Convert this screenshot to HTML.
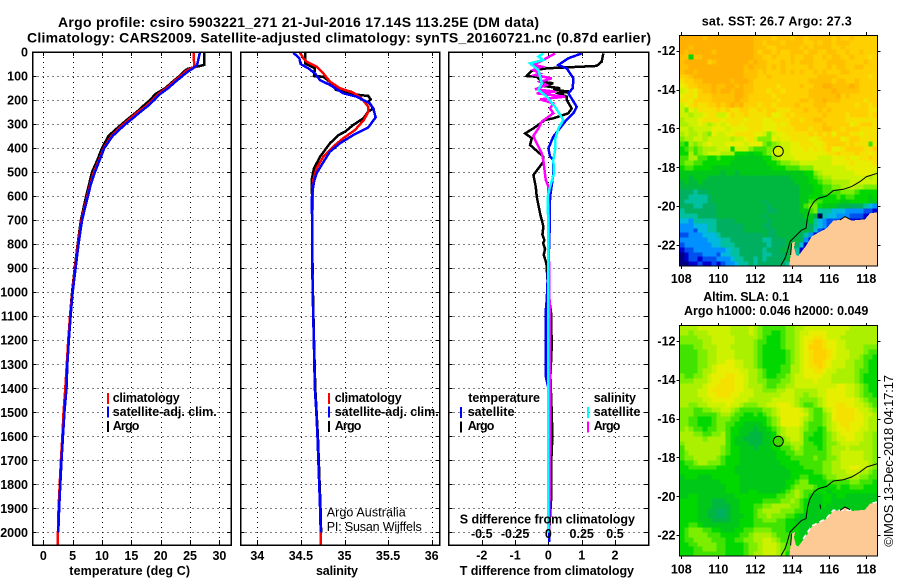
<!DOCTYPE html>
<html>
<head>
<meta charset="utf-8">
<title>Argo profile</title>
<style>
html,body{margin:0;padding:0;background:#fff;width:900px;height:580px;overflow:hidden}
svg{display:block}
text{font-family:"Liberation Sans",sans-serif;fill:#000}
.b{font-weight:bold;font-size:12.5px}
.t{font-weight:bold;font-size:14px}
.r{font-weight:normal;font-size:12.5px}
</style>
</head>
<body>
<svg id="fig" xmlns="http://www.w3.org/2000/svg" width="900" height="580" viewBox="0 0 900 580">
  <rect x="0" y="0" width="900" height="580" fill="#fff"/>
  <text class="t" x="58" y="27" textLength="481" lengthAdjust="spacing">Argo profile: csiro 5903221_271 21-Jul-2016 17.14S 113.25E (DM data)</text>
  <text class="t" x="27" y="42.5" textLength="624" lengthAdjust="spacing">Climatology: CARS2009. Satellite-adjusted climatology: synTS_20160721.nc (0.87d earlier)</text>

  <g id="panel-temp"></g>
  <g id="panel-sal"></g>
  <g id="panel-diff"></g>

  <text class="b" x="69.3" y="575" textLength="120.7" lengthAdjust="spacing">temperature (deg C)</text>
  <text class="b" x="316" y="575" textLength="42" lengthAdjust="spacing">salinity</text>
  <text class="b" x="459.7" y="575" textLength="174.3" lengthAdjust="spacing">T difference from climatology</text>
  <text class="b" x="459.7" y="523.5" textLength="175.3" lengthAdjust="spacing">S difference from climatology</text>

  <g>
    <rect x="107" y="393" width="2" height="11" fill="#f00"/>
    <rect x="107" y="406.5" width="2" height="11" fill="#00f"/>
    <rect x="107" y="421" width="2" height="11" fill="#000"/>
    <text class="b" x="112.7" y="402" textLength="67" lengthAdjust="spacing">climatology</text>
    <text class="b" x="112.7" y="416" textLength="104" lengthAdjust="spacing">satellite-adj. clim.</text>
    <text class="b" x="112.7" y="430" textLength="26.7" lengthAdjust="spacing">Argo</text>
  </g>
  <g>
    <rect x="328" y="393" width="2" height="11" fill="#f00"/>
    <rect x="328" y="406.5" width="2" height="11" fill="#00f"/>
    <rect x="328" y="421" width="2" height="11" fill="#000"/>
    <text class="b" x="334.7" y="402" textLength="67" lengthAdjust="spacing">climatology</text>
    <text class="b" x="334.7" y="416" textLength="104" lengthAdjust="spacing">satellite-adj. clim.</text>
    <text class="b" x="334.7" y="430" textLength="26.7" lengthAdjust="spacing">Argo</text>
    <text class="r" x="326.7" y="516.7" textLength="79" lengthAdjust="spacing">Argo Australia</text>
    <text class="r" x="326.7" y="531" textLength="95" lengthAdjust="spacing">PI: Susan Wijffels</text>
  </g>
  <g>
    <text class="b" x="468.3" y="402" textLength="71.7" lengthAdjust="spacing">temperature</text>
    <text class="b" x="593.7" y="402" textLength="42.3" lengthAdjust="spacing">salinity</text>
    <rect x="460" y="407" width="2" height="11" fill="#00f"/>
    <rect x="460" y="421.5" width="2" height="11" fill="#000"/>
    <rect x="587" y="407" width="2" height="11" fill="#0ff"/>
    <rect x="587" y="421.5" width="2" height="11" fill="#f0f"/>
    <text class="b" x="467.7" y="416" textLength="46.7" lengthAdjust="spacing">satellite</text>
    <text class="b" x="467.7" y="430" textLength="26.7" lengthAdjust="spacing">Argo</text>
    <text class="b" x="593.7" y="416" textLength="46.7" lengthAdjust="spacing">satellite</text>
    <text class="b" x="593.7" y="430" textLength="26.7" lengthAdjust="spacing">Argo</text>
  </g>

  <text class="b" x="701.7" y="25.7" textLength="150" lengthAdjust="spacing">sat. SST: 26.7 Argo: 27.3</text>
  <text class="b" x="703.3" y="301" textLength="85.7" lengthAdjust="spacing">Altim. SLA: 0.1</text>
  <text class="b" x="684" y="315" textLength="184.3" lengthAdjust="spacing">Argo h1000: 0.046 h2000: 0.049</text>

  <g id="map-sst" transform="translate(679.3,35.3)">
    <g id="sst-cells"></g>
    <path fill="#fdca96" shape-rendering="crispEdges" d="M198,177 L190.7,178 185.7,184 172.3,185.3 165.7,181.3 160.7,184.7 154,185.3 147.3,193 139,197.3 132.3,201.3 127.3,209.7 122.3,216.3 119,220.7 116.7,219.7 114.7,212 115.7,206.3 112.3,208 111.3,219.7 110,230.7 198,230.7 Z"/>
    <path fill="none" stroke="#000" stroke-width="1" d="M198,138 L187.3,141.3 180.7,146.3 172.3,151.3 164,154 154,155.3 147.3,160.7 139,163 134.7,166.3 130.7,173 128.3,181.3 126.7,193 122.3,194.7 115.7,201.3 110.7,206.3 108,216.3 105.7,223 101.3,230.7"/>
    <path fill="none" stroke="#000" stroke-width="1" d="M160.7,184.7 L165.7,181.3 170.7,184 M140.7,178.7 L141.3,183 M112.3,208 L111.3,219.7"/>
    <circle cx="99" cy="116" r="5" fill="#d8f000" stroke="#000" stroke-width="1"/>
    <rect x="0" y="0" width="198" height="230.7" fill="none" stroke="#000" stroke-width="1" shape-rendering="crispEdges"/>
  </g>

  <g id="map-sla" transform="translate(679.3,325.7)">
    <g id="sla-cells"></g>
    <path fill="#fdca96" shape-rendering="crispEdges" d="M198,177 L190.7,178 185.7,184 172.3,185.3 165.7,181.3 160.7,184.7 154,185.3 147.3,193 139,197.3 132.3,201.3 127.3,209.7 122.3,216.3 119,220.7 116.7,219.7 114.7,212 115.7,206.3 112.3,208 111.3,219.7 110,230.7 198,230.7 Z"/>
    <path fill="none" stroke="#fff" stroke-width="1.5" stroke-dasharray="5 3" shape-rendering="crispEdges" d="M198,176.5 L190.7,177.5 M172.3,184.5 L154,184.5 147.3,192.5 132.3,200.5 122.3,215.5"/>
    <path fill="none" stroke="#000" stroke-width="1" d="M198,138 L187.3,141.3 180.7,146.3 172.3,151.3 164,154 154,155.3 147.3,160.7 139,163 134.7,166.3 130.7,173 128.3,181.3 126.7,193 122.3,194.7 115.7,201.3 110.7,206.3 108,216.3 105.7,223 101.3,230.7"/>
    <path fill="none" stroke="#000" stroke-width="1" d="M160.7,184.7 L165.7,181.3 170.7,184 M140.7,178.7 L141.3,183 M112.3,208 L111.3,219.7"/>
    <circle cx="99" cy="115.6" r="5" fill="#40d800" stroke="#000" stroke-width="1"/>
    <rect x="0" y="0" width="198" height="230.3" fill="none" stroke="#000" stroke-width="1" shape-rendering="crispEdges"/>
  </g>
  <g id="map-axes"></g>

  <text x="893" y="546.7" transform="rotate(-90 893 546.7)" font-size="13" textLength="171.7" lengthAdjust="spacing">©IMOS 13-Dec-2018 04:17:17</text>
</svg>
<script>
// ---------- axis tick data ----------
const depthTicks = [0,100,200,300,400,500,600,700,800,900,1000,1100,1200,1300,1400,1500,1600,1700,1800,1900,2000];
const tempTicks = [0,5,10,15,20,25,30];
const salTicks = [34,34.5,35,35.5,36];
const tDiffTicks = [-2,-1,0,1,2];
const sDiffLabels = ["-0.5","-0.25","0","0.25","0.5"];
const lonTicks = [108,110,112,114,116,118];
const latTicks = [-12,-14,-16,-18,-20,-22];

// ---------- temperature profile data ----------
const tempDepths = [0,54,62,70,80,100,120,150,175,200,225,250,275,300,325,350,400,450,500,550,600,700,800,900,1000,1100,1200,1300,1400,1500,1600,1700,1800,1900,2000,2050];
const tempClim = [25.6,25.7,25.9,25,24.3,23.4,22.4,21,19.6,18.6,17.5,16.1,14.9,13.7,12.6,11.6,10.3,9.5,8.6,8,7.5,6.5,5.9,5.4,4.95,4.55,4.25,4,3.75,3.45,3.25,3,2.8,2.6,2.5,2.45];
const tempSat = [26.7,26.2,25.8,25.4,24.7,23.7,22.7,21.3,19.9,18.9,17.8,16.5,15.3,14,12.9,11.8,10.4,9.6,8.8,8.1,7.6,6.6,6,5.5,5,4.65,4.35,4.1,3.95,3.6,3.35,3.1,2.9,2.7,2.55];
const tempArgo = [27.4,27.4,26,24.6,24,23.2,22.2,20.8,19.1,18.2,17,15.9,14.6,13.4,12.2,11.1,10,9.2,8.3,7.8,7.3,6.4,5.85,5.35,4.9,4.55,4.25,4,3.85,3.6,3.35,3.1,2.9,2.7,2.55];

// ---------- salinity profile data ----------
const salArgoDepth = [3,47,68,100,103,130,158,165,172,183,197,207,235,248,276,304,332,346,380,436,484,533,561,800,1000,1200,1400,1500,1600,1700,1800,1900,2000];
const salArgo = [34.547,34.547,34.661,34.65,34.757,34.852,34.902,35.082,34.986,35.273,35.3,35.273,35.33,35.273,35.216,35.1,35.005,34.93,34.833,34.72,34.65,34.623,34.627,34.63,34.638,34.65,34.665,34.68,34.695,34.705,34.715,34.725,34.732];
const salClimDepth = [3,26,40,61,89,123,151,169,193,228,248,283,325,359,394,436,484,533,575,800,1000,1200,1400,1500,1600,1700,1800,1900,2000,2050];
const salClim = [34.489,34.528,34.566,34.68,34.757,34.833,34.948,35.1,35.196,35.273,35.273,35.223,35.12,34.986,34.87,34.757,34.68,34.642,34.635,34.63,34.635,34.648,34.66,34.677,34.69,34.7,34.71,34.72,34.727,34.727];
const salSatDepth = [3,26,50,68,89,117,137,172,186,214,235,272,314,346,380,415,470,505,540,575,602,800,1000,1200,1400,1500,1600,1700,1800,1900,2000];
const salSat = [34.413,34.482,34.497,34.585,34.661,34.719,34.833,34.986,35.139,35.292,35.33,35.357,35.273,35.1,34.948,34.833,34.738,34.68,34.65,34.635,34.627,34.628,34.635,34.648,34.66,34.677,34.69,34.7,34.71,34.72,34.727];

// ---------- difference from climatology data ----------
const dTArgoDepth = [6,40,58,68,78,100,103,124,130,141,151,158,165,172,186,200,235,255,276,283,318,339,359,387,436,457,512,561,602,672,727,760,783,796,820,845,880,921,1000,1087,1224,1350,1503,1599,1724,1865,2000];
const dTArgo = [1.65,1.6,1.45,-0.05,-0.5,-0.65,-0.35,-0.2,0.15,-0.15,0.35,0.15,0.65,0.3,0.55,0.55,0.7,0.6,0.15,-0.1,-0.45,-0.7,-0.5,-0.55,-0.15,-0.15,-0.45,-0.38,-0.35,-0.25,-0.15,-0.18,-0.12,-0.16,-0.1,-0.14,-0.06,-0.04,0,0.08,0.1,0.06,0.1,0.12,0.08,0.08,0.02];
const dTSatDepth = [6,26,54,68,110,151,172,228,255,290,352,401,436,450,505,575,602,783,1032,1080,1350,1400,1800,2040];
const dTSat = [1,0.6,0.3,0.55,0.75,0.73,0.6,0.85,0.75,0.5,0.15,0,0.05,0.15,0.15,0.08,0.05,0.03,-0.05,-0.08,-0.08,0,0.05,0.02];
const dSArgoDepth = [6,33,54,61,75,89,96,110,124,137,155,165,172,186,197,214,235,255,290,318,350,380,422,450,477,533,561,783,1100,1200,1500,1800,2000];
const dSArgo = [0.05,-0.038,-0.113,-0.05,-0.113,-0.063,-0.1,0.025,-0.063,-0.013,-0.1,0.05,-0.088,0.125,-0.063,0.037,0.012,0.037,-0.05,-0.075,-0.113,-0.088,-0.05,-0.038,-0.0325,-0.02,0,0.0025,0.01,0.01,0.015,0.01,0.005];
const dSSatDepth = [6,19,33,47,75,130,158,186,228,283,318,366,408,450,505,561,602,783,2000];
const dSSat = [-0.038,-0.075,-0.038,-0.138,-0.075,-0.05,-0.075,-0.013,0.05,0.112,0.075,0.05,0.05,0.037,0.0425,0.0125,-0.005,0,-0.002];

// ---------- map colour scale and gridded values ----------
const mapPalette = {a:"#000080",b:"#0000d0",c:"#0050f0",d:"#0090ff",e:"#00b8e0",f:"#00c0a0",g:"#00b060",h:"#00b840",i:"#00c818",j:"#00d800",k:"#40e400",l:"#7cee00",m:"#aaf000",n:"#ccf200",o:"#e8ee00",p:"#f5e100",q:"#ffd000",r:"#ffc000",s:"#ffb000"};
const sstGrid = [
"sssssrssss ssssssrrrr qrrrqrrqrr rrrqrqqrqq qqq",
"ssssssssss ssssssrrqr rrqrrrrqqr qrrqrrrqqq qqq",
"ssrsssssss ssssssrrrq qrrrrrqrqr rrrqqrqqqq qqq",
"srsssssrss ssssssrqrr qrqqrrrqrr qqrrqqrqqr qqq",
"rrjrrsssss ssssssrrqq rqqqrqqrrq qrqrrqqrqq qpq",
"rsssssqrss sssssrsrrq qqrqrqrrrq qqrrrrqqqq rqq",
"rrssssssss ssssrsrrrq rqrqqqqqrq qqrqrrqqrr qqq",
"rssrssssss ssssrrrqrq qqrqrqrqqr qrqqqrrqqq qqq",
"qqrsssssss ssssrrrqqr qqqqqqqqqq rrrrqqqqqq qpq",
"pqqrrsssss srsssrqqqq qqqqqqqqrr rrrqrrqqrq qqq",
"opqqrrrsrr ssrsrrqqqq qpqqqqrqqr rssrrrrsrq qqq",
"nopoqrrsrs srssrrqqqp qqpqqqqqrr rrrsrrrrrq qqq",
"oppoqqqrrr rrssrqqqqq pqqqqqqqrr rrrrsqrqqq qqq",
"ppoqqqqrrr rrsrrqqqqq qpqqqqrrqr rsrrrqqqqq pqq",
"nopqppqqrq rsrsqqqpqq pqqqqrqqqr rrqqqqqqpq qpq",
"nlonppppqp qppqqppqpq qpppqqqrqq rqrqqqqqqq qpp",
"nnmnnoppnn oqppqppppq oopqpqqqqq qrqqqqpqqq qpq",
"mnnnoppppo ppppopppoo ppppqqpqqr rqqqqqpppp ppp",
"mmnnonmnon oppoppppoo opopqqqqqq qrqqqqqopq qqp",
"nnmnnnnooo noooopppoo oppppqqqpq qrrqqpqqqp ppp",
"mnmmnmlonn ooppppoonl noopppppqp qpqoqqqppo ppp",
"lmmnnmnnnn nmnnopnlll onooppppoo pqqqqopqqp ppp",
"kjmlmnonnn oooonooolk lmnnoopppo opqqqqpqpp pkp",
"jklklmmmnn njnnnlkkkl lnnnooopop opqoopqqqq ppq",
"jjmklmnnnm mmjjjijjkl nnnnoooooo ooppqpppqp pop",
"kkmmkkjjkj jjiiiiiijj lmnnnooooo nnnooopoop pqp",
"kllkkjjjjj jiiiiiiiij jkllmmnnnn nnnoooopoo oop",
"jkkjjjjiii iiiiiiiiii jjjkkkllln nnnnnnoooo ooo",
"iiiiiiiiih iihiiiiiii iiiiiiijjl mnnnnnnnoo oon",
"iihiiihhhh hhhhhhhhhh hhhhiiiijk lmmnnnnnnn nmn",
"hihhihhhhh hhhhhhhhhh hhhhhiiijj kllmmmmnnn nnn",
"hhhhhhhhhh hhhhhhhhhh hhhhhhiiij jkkllmmnmm lll",
"gggfgghhhh hhhhhhhhhh hhhhhhiiij jkkkklllkj jjj",
"ggffffghhh hhhhhhhhhh hhhhhhiijj ijjjkjkkjj jij",
"gfffffghhh hhhhhhhhgh hhhhhhiikk kjjjjiijjj jii",
"gggffggghh hhhhhhhhhg hhhhhhikll jiiihhhggg fed",
"fggggggghh hhhhhhhhhg ghhhhhiikl fffeeedddd ccb",
"ffffgggghh hhhhhhhhgh hhhhhhhiih afeedddccc bbb",
"eedfffffgg gghhhhhhhg hhhhhhhhif edcccbbbba aaa",
"dddeeeffgg gggghhhhgg hhhhhhhhgf edcbbaaaaa aaa",
"dddceeffgg gggghhhhhg ghhhhhhhge cbaaaaaaaa aaa",
"ccdddeeefg gggggggghg ghhhhhgfdb baaaaaaaaa aaa",
"ddddddeeef fgggggggff ggghhhgdba aaaaaaaaaa aaa",
"cddddddeef ffgggggggf ggghhgebaa aaaaaaaaaa aaa",
"bccddddddd effgggggfg gghhgfbaaa aaaaaaaaaa aaa",
"abcccdddce effgggggff ggghhfaaaa aaaaaaaaaa aaa",
"abccbcccdd deffggfgfg ggghhggaaa aaaaaaaaaa aaa",
"aabbcbbcbc ddeffgfggg gggffffffa aaaaaaaaaa aaa"
];
const slaGrid = [
"mmmmnnnnnn nmmmmnmlkk kkkllmmnnn nnnnnnnmmm mmm",
"mmlmmmnnnn nmmmmnmlkk jjkllmnnoo oonnnnmmmm mmm",
"llllmmmnnn nnmmmmmlkj jjkllmnoop ponnnmmmmm mmm",
"lllllmmnnn nnmmmmlkkj jjkllmnopq qpoonnmmmm mmm",
"kkkllmmmnn nmmmmmlkjj jjkllmnoqq qpoonnmmmm lll",
"kkkkllmmnn nnmmmmlkjj jjjklmnopq qqponnnmmm lkk",
"kkkkllmmnn nnmmmmlkjj jjjklmnopq qqponnnmml kkj",
"kkkkllmmnn oonnmmlkjj jjjklmnopq qponnnmmll kjj",
"kkkkllmnoo oonnmmlkjj jjkkmmnopp qponnnmmll kjj",
"kkkklmmnoo ooonnmmlkj jjkkmmnoop ponnmmmmlk kjj",
"lkkllmnooo ppoonmmlkj jkklmnnooo onnmmmmmlk jjj",
"lllmmmnoop ppoonmmllk kkllmnnnno nnnmmmmmlk jjj",
"mmmmmnoopp ppoonmmmlk kllmmnnnnn nnnnoonnml kjj",
"mmmmnnoppp ppoonnmmll lmmnnmmmmm nnoooonnml kjj",
"mmmmnnoopp poonnnmmmm mmnnnmmlmm nnoooonnml kkj",
"mmmmmnnooo oonnnmmmmm nnnnnmllll mnoooooonm lkk",
"mmllmmnnnn onnmlllmmn nooonmlkkl mnooppoonn mlk",
"lllkkllmmn nmlkkkkkll mnoooonmlk kmnoppppon nml",
"lllkkkkklm mlkkjjkjkl mnooooonlk klmoppppoo nnm",
"llkkjjjkll lkkjjjjjjk lmoooonmlk klmoppppoo nmm",
"llkkjjjkll kkjjiiiijk lmoooonlkk klmnoppooo nmm",
"lmlkkjkkll kjjiiihiij klmnnnmlkk jkmnoopoon nmm",
"mmmllkkllm kjjiihhhii jlmnnnmkkj jklmnooonn mml",
"mmmmmlmmmm kjiihhhhii jklmnnmkjj jklmnnoonn mml",
"lmmmmmmmmm kjiiihhhii jkllmmmkkj jkllmnnnnm mml",
"kmmmmmmmml kjjiiihiii jjkklmlkkk jklmmmnmmm mml",
"klmmmmmmml kjjiiiiiii ijjkkllkkk kklmmnnnnn mml",
"kllmmmmmlk jjjiiiiiii ijjjkkkkkl kkllmnnnnn mml",
"jkklmmlllk jjjiiiiiii iijjjjkkkk kllmmnnnnn nml",
"jjkkkkkkjj jjiiiiiiii iiijjjjkkk kllmmnnoon nml",
"jjjjjjjjjj jjiiiiiiii iiiijjjjjk kllmmmnnnm mlk",
"ijjjiiijjj jjjiiiiiii iiiijjkkjj jkllmmmmml lkk",
"iiiiiiiiij jjjiiiiiii iiijjklljj jjkkkkkllk kkj",
"iiiiiiiiii jjjiiiiiii iiijkllllk jjjjkjjkkk jjj",
"iiiiiiiiii jjjiijjiii iijklmlkkj jjijjjjjjj jjj",
"iijjiiiiii iijjjjjjjj jkkllmlkji ijjijjiiii iii",
"jjjjiiihhh iiijjjjjkk kkllmlkjii ijjiiiiiii iii",
"jjjjiiihhh hiijjjkkll mmmmllkjii ijiiiiiiii iii",
"jjjjiihhgg hiijjjklmm mmlllkkjii iiiiiiiiii iii",
"jjjjiihhgg hiiijjkllm lllkkjiiii iiiiiiiiii iii",
"jjjjiiihhh hiijjjkkll lkkjjiiiii iiiiiiiiii iii",
"jjkkjiiiii iiijjjkkkk kkkjjjiiii iiiiiiiiii iii",
"jklllkkjji iijjkkllll kkkjjjiiii iiiiiiiiii iii",
"jkllllkkkj jjjkklmmmm lkkkjjiiii iiiiiiiiii iii",
"jkkllllkkk jjkkllmmnn mlkkjjiiii iiiiiiiiii iii",
"jjkkllllkk jjjjkllmnn nmlkjjjiii iiiiiiiiii iii",
"jjjkklllkk jjjjkllmnn nmlkjjjiii iiiiiiiiii iii",
"jjjkkkkkkk jjjjklmmnn nmljjjjiii iiiiiiiiii iii"
];

// ---------- axis functions ----------
const NS = "http://www.w3.org/2000/svg";
const plotTop = 52, plotBottom = 545;
function yDepth(d){ return 52 + d * 0.2402; }
function xTemp(t){ return 43.3 + t * 5.87; }
function xSal(s){ return 257.3 + (s - 34) * 87.2; }
function xDiffT(v){ return 548.4 + v * 33.3; }
function xDiffS(v){ return xDiffT(v * 4); }
function xLon(lon){ return 681.3 + (lon - 108) * 18.5; }
function ySstLat(lat){ return 50.7 + (-12 - lat) * 19.44; }
function ySlaLat(lat){ return 340.9 + (-12 - lat) * 19.42; }

function el(tag, parent, attrs){
  const e = document.createElementNS(NS, tag);
  for (const k in attrs) e.setAttribute(k, attrs[k]);
  parent.appendChild(e);
  return e;
}

function drawFrame(parent, x0, x1, xTicks, xFn){
  depthTicks.forEach(function(d){
    const y = Math.round(yDepth(d));
    const grid = el("line", parent, {x1:x0, y1:y+0.5, x2:x1, y2:y+0.5, stroke:"#000", "stroke-width":1, "stroke-dasharray":"1 4", "shape-rendering":"crispEdges"});
    
    
    const tl = el("line", parent, {x1:x0, y1:y+0.5, x2:x0+4, y2:y+0.5, stroke:"#000", "stroke-width":1, "shape-rendering":"crispEdges"});
    
    
    const tr = el("line", parent, {x1:x1-4, y1:y+0.5, x2:x1, y2:y+0.5, stroke:"#000", "stroke-width":1, "shape-rendering":"crispEdges"});
    
    
  });
  xTicks.forEach(function(v){
    const x = Math.round(xFn(v));
    const grid = el("line", parent, {x1:x+0.5, y1:plotTop, x2:x+0.5, y2:plotBottom, stroke:"#000", "stroke-width":1, "stroke-dasharray":"1 4", "shape-rendering":"crispEdges"});
    
    
    const tt = el("line", parent, {x1:x+0.5, y1:plotTop, x2:x+0.5, y2:plotTop+4, stroke:"#000", "stroke-width":1, "shape-rendering":"crispEdges"});
    
    
    const tb = el("line", parent, {x1:x+0.5, y1:plotBottom-5, x2:x+0.5, y2:plotBottom, stroke:"#000", "stroke-width":1, "shape-rendering":"crispEdges"});
    
    
  });
}

function drawBox(parent, x0, x1){
  const box = el("rect", parent, {x:x0, y:plotTop, width:x1-x0, height:plotBottom-plotTop, fill:"none", stroke:"#000", "stroke-width":1.5, "shape-rendering":"crispEdges"});
  
  
}

function drawSeries(parent, depths, values, xFn, color, name){
  const n = Math.min(depths.length, values.length);
  const pts = [];
  for (let i = 0; i < n; i++) pts.push(xFn(values[i]).toFixed(2) + "," + yDepth(depths[i]).toFixed(2));
  const line = el("polyline", parent, {points:pts.join(" "), fill:"none", stroke:color, "stroke-width":2.5, "stroke-linejoin":"miter", "shape-rendering":"crispEdges"});
  
  
}

function drawLabel(parent, x, y, str, anchor, name){
  const t = el("text", parent, {x:x, y:y, "text-anchor":anchor, "class":"b"});
  t.textContent = str;
  
  
}

// ---------- temperature panel ----------
const pT = document.getElementById("panel-temp");
drawFrame(pT, 32.5, 231, tempTicks, xTemp);
drawSeries(pT, tempDepths, tempArgo, xTemp, "#000", "temperature-argo-line");
drawSeries(pT, tempDepths, tempClim, xTemp, "#f00", "temperature-climatology-line");
drawSeries(pT, tempDepths, tempSat, xTemp, "#00f", "temperature-satellite-line");
drawBox(pT, 32.5, 231);
depthTicks.forEach(function(d){
  drawLabel(pT, 28, yDepth(d) + 4.5, String(d), "end", "depth-tick-label");
});
tempTicks.forEach(function(v){
  drawLabel(pT, xTemp(v), 560, String(v), "middle", "temperature-tick-label");
});

// ---------- salinity panel ----------
const pS = document.getElementById("panel-sal");
drawFrame(pS, 240.5, 439.5, salTicks, xSal);
drawSeries(pS, salArgoDepth, salArgo, xSal, "#000", "salinity-argo-line");
drawSeries(pS, salClimDepth, salClim, xSal, "#f00", "salinity-climatology-line");
drawSeries(pS, salSatDepth, salSat, xSal, "#00f", "salinity-satellite-line");
drawBox(pS, 240.5, 439.5);
salTicks.forEach(function(v){
  drawLabel(pS, xSal(v), 560, String(v), "middle", "salinity-tick-label");
});

// ---------- difference panel ----------
const pD = document.getElementById("panel-diff");
drawFrame(pD, 448.5, 648.5, tDiffTicks, xDiffT);
drawSeries(pD, dTArgoDepth, dTArgo, xDiffT, "#000", "t-difference-argo-line");
drawSeries(pD, dTSatDepth, dTSat, xDiffT, "#00f", "t-difference-satellite-line");
drawSeries(pD, dSArgoDepth, dSArgo, xDiffS, "#f0f", "s-difference-argo-line");
drawSeries(pD, dSSatDepth, dSSat, xDiffS, "#0ff", "s-difference-satellite-line");
drawBox(pD, 448.5, 648.5);
tDiffTicks.forEach(function(v, i){
  drawLabel(pD, xDiffT(v), 559.5, String(v), "middle", "t-difference-tick-label");
  drawLabel(pD, xDiffT(v), 538, sDiffLabels[i], "middle", "s-difference-tick-label");
});

// ---------- maps ----------
function drawGrid(id, rows, w, h){
  const g = document.getElementById(id);
  const nr = rows.length;
  rows.forEach(function(raw, r){
    const row = raw.replace(/ /g, "");
    const nc = 43;
    for (let c = 0; c < nc; c++){
      const key = row[Math.min(c, row.length - 1)];
      const x0 = Math.round(c * w / nc), x1 = Math.round((c + 1) * w / nc);
      const y0 = Math.round(r * h / nr), y1 = Math.round((r + 1) * h / nr);
      const cell = el("rect", g, {x:x0, y:y0, width:x1-x0, height:y1-y0, fill:mapPalette[key], "shape-rendering":"crispEdges"});
      
      
    }
  });
}
drawGrid("sst-cells", sstGrid, 198, 231);
drawGrid("sla-cells", slaGrid, 198, 231);

const mapAxes = document.getElementById("map-axes");
function drawMapAxes(yFn, top, bottom, labelY){
  lonTicks.forEach(function(lon){
    const x = Math.round(xLon(lon)) + 0.5;
    const t1 = el("line", mapAxes, {x1:x, y1:top-3, x2:x, y2:top, stroke:"#000", "stroke-width":1, "shape-rendering":"crispEdges"});
    
    
    const t2 = el("line", mapAxes, {x1:x, y1:bottom, x2:x, y2:bottom+3, stroke:"#000", "stroke-width":1, "shape-rendering":"crispEdges"});
    
    
    drawLabel(mapAxes, xLon(lon), labelY, String(lon), "middle", "map-lon-label");
  });
  latTicks.forEach(function(lat){
    const y = Math.round(yFn(lat)) + 0.5;
    const t1 = el("line", mapAxes, {x1:676.5, y1:y, x2:679.5, y2:y, stroke:"#000", "stroke-width":1, "shape-rendering":"crispEdges"});
    
    
    const t2 = el("line", mapAxes, {x1:877.5, y1:y, x2:880.5, y2:y, stroke:"#000", "stroke-width":1, "shape-rendering":"crispEdges"});
    
    
    drawLabel(mapAxes, 675.5, yFn(lat) + 4.5, String(lat), "end", "map-lat-label");
  });
}
drawMapAxes(ySstLat, 35, 266, 283);
drawMapAxes(ySlaLat, 326, 556, 573.3);
</script>
</body>
</html>
